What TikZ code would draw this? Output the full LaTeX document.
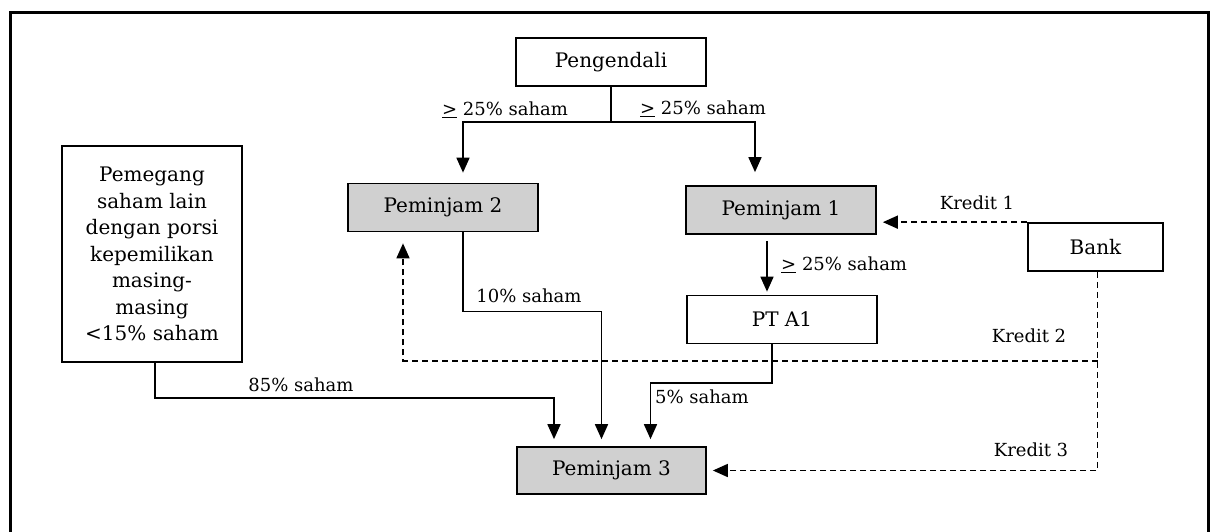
\documentclass[tikz,border=0pt]{standalone}
\usepackage{fontspec}
\setmainfont{DejaVu Serif}
\usetikzlibrary{arrows.meta}
\definecolor{shade}{RGB}{208,208,208}
\begin{document}
\begin{tikzpicture}[x=1pt,y=-1pt,
  box/.style={draw,line width=1.7pt,inner sep=0pt,minimum width=190pt,
    minimum height=48pt,font=\fontsize{20}{24}\selectfont},
  loan/.style={box,fill=shade},
  own/.style={line width=1.7pt,-{Triangle[width=13pt,length=15pt]}},
  credit/.style={own,dash pattern=on 6pt off 4pt},
  lbl/.style={font=\fontsize{18}{22}\selectfont,inner sep=0pt}]
\useasboundingbox (0,0) rectangle (1216,531);
\fill[white] (0,0) rectangle (1216,531);
% outer frame, open at the bottom edge
\draw[line width=3pt] (10,545) -- (10,12) -- (1208,12) -- (1208,545);

% entities
\node[box]  (peng) at (611,62)    {Pengendali};
\node[loan] (p2)   at (443,207.5) {Peminjam 2};
\node[loan] (p1)   at (781,210)   {Peminjam 1};
\node[box]  (pta)  at (782,319.5) {PT A1};
\node[box,minimum width=135pt] (bank) at (1095.5,247) {Bank};
\node[loan,minimum width=189pt,minimum height=47pt] (p3) at (611.5,470.5) {Peminjam 3};
\node[box,minimum width=180pt,minimum height=216pt,align=center,
  font=\fontsize{20}{26.5}\selectfont] (pem) at (152,254)
  {Pemegang\\saham lain\\dengan porsi\\kepemilikan\\masing-\\masing\\<15\% saham};

% shareholdings
\coordinate (j) at (611,122);
\draw[line width=1.7pt] (peng.south) -- (j);
\draw[own,shorten >=10pt] (j) -| ([xshift=20pt]p2.north);
\draw[own,shorten >=13pt] (j) -| ([xshift=-26pt]p1.north);
\draw[own,shorten <=6pt,shorten >=3pt] ([xshift=-14pt]p1.south) -- ([xshift=-14pt]p1.south |- pta.north);
\draw[own,shorten >=7pt] ([xshift=20pt]p2.south) -- ++(0,79) -| ([xshift=-10pt]p3.north);
\draw[own,shorten >=7pt] ([xshift=-10pt]pta.south) -- ++(0,38.7) -| ([xshift=39pt]p3.north);
\draw[own,shorten >=7pt] ([xshift=3pt]pem.south) -- ++(0,35) -| ([xshift=-57.5pt]p3.north);

\node[lbl] (l1) at (505,110) {\underline{>} 25\% saham};
\node[lbl] (l2) at (703,109) {\underline{>} 25\% saham};
\node[lbl,anchor=west] (l3) at (781,265) {\underline{>} 25\% saham};
\node[lbl] (l4) at (529,296) {10\% saham};
\node[lbl] (l5) at (702,397) {5\% saham};
\node[lbl] (l6) at (301,385) {85\% saham};

% credit lines from the bank
\draw[credit,shorten >=6pt] (bank.north west) -- (bank.north west -| p1.east);
\draw[credit,shorten >=6pt] ([xshift=2pt]bank.south) |- (p3.east);
\coordinate (k2) at ([xshift=2pt,yshift=-89pt]bank.south);
\draw[credit,shorten >=11pt] (k2) -| ([xshift=-40pt]p2.south);

\node[lbl] (c1) at (977,203) {Kredit 1};
\node[lbl] (c2) at (1029,336) {Kredit 2};
\node[lbl] (c3) at (1031,450) {Kredit 3};
\end{tikzpicture}
\end{document}
